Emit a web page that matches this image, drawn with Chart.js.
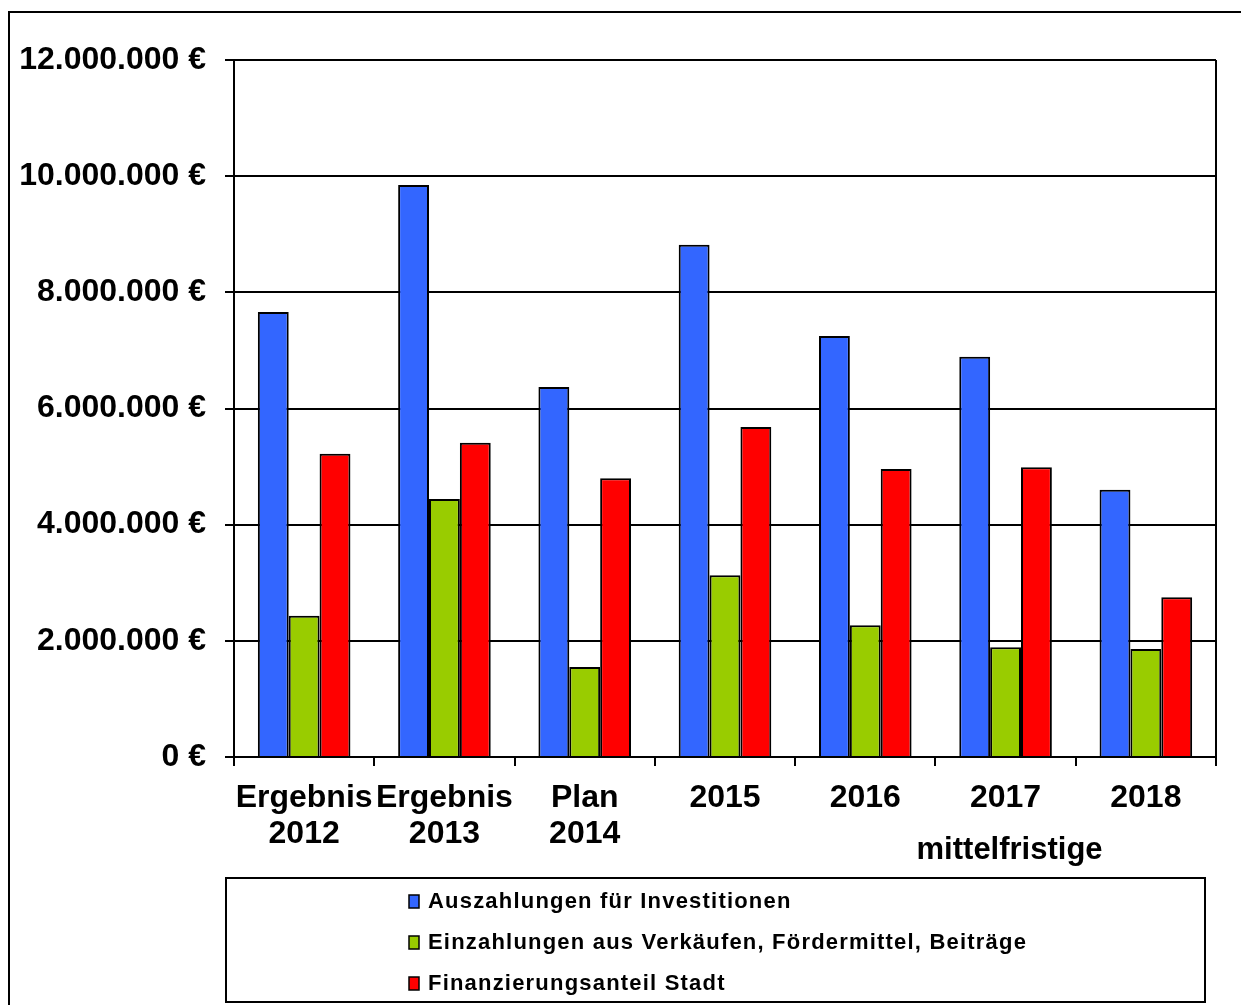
<!DOCTYPE html>
<html>
<head>
<meta charset="utf-8">
<script src="https://cdn.jsdelivr.net/npm/chart.js@4.4.1/dist/chart.umd.min.js"></script>
<style>
  body { margin: 0; background: #fff; }
  #wrap { position: relative; width: 1241px; height: 1005px; }
</style>
</head>
<body>
<div id="wrap"><canvas id="chart" width="1241" height="1005"></canvas></div>
<script>
// Kategorien (Jahre)
const categories = [['Ergebnis', '2012'], ['Ergebnis', '2013'], ['Plan', '2014'], '2015', '2016', '2017', '2018'];
const extraLabel = 'mittelfristige';
const extraLabelIndex = 5;

// Werte in Euro
const auszahlungen = [7660000, 9850000, 6370000, 8820000, 7250000, 6890000, 4600000];
const einzahlungen = [2430000, 4440000, 1550000, 3130000, 2270000, 1890000, 1860000];
const finanzierung = [5220000, 5410000, 4800000, 5680000, 4960000, 4990000, 2750000];

const seriesNames = [
  'Auszahlungen für Investitionen',
  'Einzahlungen aus Verkäufen, Fördermittel, Beiträge',
  'Finanzierungsanteil Stadt'
];
const seriesColors = ['#3366FF', '#99CC00', '#FF0000'];

const FONT = '"Liberation Sans", Arial, sans-serif';

function formatEuro(v) {
  return v.toString().replace(/\B(?=(\d{3})+(?!\d))/g, '.') + ' €';
}

// Rahmen, rechte Achsenlinie, "mittelfristige" und Legende
const extrasPlugin = {
  id: 'extras',
  afterDraw(chart) {
    const ctx = chart.ctx;
    const area = chart.chartArea;
    ctx.save();
    ctx.strokeStyle = '#000';
    ctx.lineWidth = 2;
    // outer frame
    ctx.strokeRect(9, 12, 1260, 1020);
    // right border of plot area
    ctx.beginPath();
    ctx.moveTo(area.right, area.top);
    ctx.lineTo(area.right, area.bottom);
    ctx.stroke();

    // extra x label
    const xScale = chart.scales.x;
    ctx.fillStyle = '#000';
    ctx.font = 'bold 31px ' + FONT;
    ctx.textAlign = 'center';
    ctx.textBaseline = 'middle';
    ctx.fillText(extraLabel, xScale.getPixelForValue(extraLabelIndex) + 4, area.bottom + 93);

    // legend box
    const lx = area.left - 8, ly = area.bottom + 121;
    const lw = area.right - 11 - lx, lh = 124;
    ctx.strokeRect(lx, ly, lw, lh);
    ctx.font = 'bold 22px ' + FONT;
    ctx.textAlign = 'left';
    ctx.letterSpacing = '1.2px';
    chart.data.datasets.forEach((ds, i) => {
      const cy = ly + 24 + i * 41;
      ctx.fillStyle = ds.backgroundColor;
      ctx.fillRect(lx + 183, cy - 7, 10, 13);
      ctx.lineWidth = 1.5;
      ctx.strokeRect(lx + 183, cy - 7, 10, 13);
      ctx.fillStyle = '#000';
      ctx.fillText(ds.label, lx + 202, cy);
    });
    ctx.restore();
  }
};

const datasets = [auszahlungen, einzahlungen, finanzierung].map((values, i) => ({
  label: seriesNames[i],
  data: values,
  backgroundColor: seriesColors[i],
  borderColor: '#000',
  borderWidth: 2,
  borderSkipped: 'bottom',
  categoryPercentage: 0.66,
  barPercentage: 1.0
}));

new Chart(document.getElementById('chart').getContext('2d'), {
  type: 'bar',
  data: { labels: categories, datasets: datasets },
  options: {
    responsive: false,
    animation: false,
    layout: { padding: { top: 60, right: 25, left: 18, bottom: 0 } },
    plugins: {
      legend: { display: false },
      tooltip: { enabled: false }
    },
    scales: {
      y: {
        min: 0,
        max: 12000000,
        ticks: {
          stepSize: 2000000,
          color: '#000',
          padding: 19,
          font: { family: FONT, size: 32, weight: 'bold' },
          callback: v => formatEuro(v)
        },
        grid: { color: '#000', lineWidth: 2, tickLength: 9, tickColor: '#000' },
        border: { color: '#000', width: 2 },
        afterFit: s => { s.width = 216; }
      },
      x: {
        ticks: {
          color: '#000',
          padding: 15,
          maxRotation: 0,
          autoSkip: false,
          font: { family: FONT, size: 32, weight: 'bold', lineHeight: 1.1 }
        },
        grid: { drawOnChartArea: false, drawTicks: true, tickLength: 9, color: '#000', lineWidth: 2 },
        border: { color: '#000', width: 2 },
        afterFit: s => { s.height = 248; }
      }
    }
  },
  plugins: [extrasPlugin]
});
</script>
</body>
</html>
